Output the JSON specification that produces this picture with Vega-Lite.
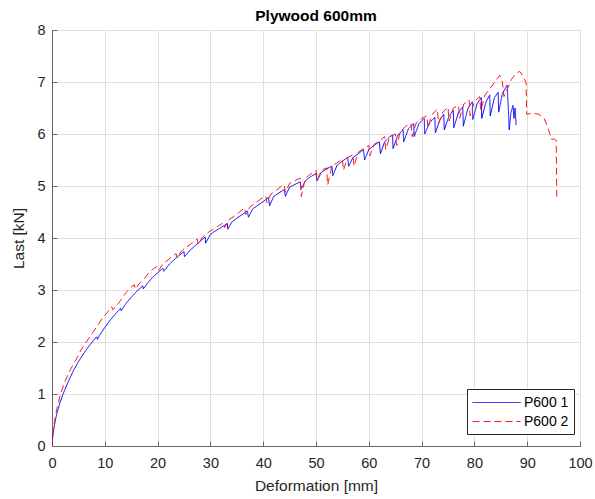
{
  "$schema": "https://vega.github.io/schema/vega-lite/v6.json",
  "width": 528,
  "height": 416,
  "autosize": {"type": "none"},
  "padding": {"left": 52, "top": 30, "right": 15, "bottom": 53},
  "background": "white",
  "title": {
    "text": "Plywood 600mm",
    "font": "Liberation Sans",
    "fontSize": 15.5,
    "fontWeight": "bold",
    "color": "#000000",
    "anchor": "middle",
    "offset": -2
  },
  "data": {
    "values": [
      {"s": "P600 1", "x": 0, "y": 0}, {"s": "P600 1", "x": 0.1, "y": 0.15}, {"s": "P600 1", "x": 0.3, "y": 0.3},
      {"s": "P600 1", "x": 0.6, "y": 0.48}, {"s": "P600 1", "x": 1, "y": 0.65}, {"s": "P600 1", "x": 1.5, "y": 0.83},
      {"s": "P600 1", "x": 2.1, "y": 1.0}, {"s": "P600 1", "x": 3, "y": 1.22}, {"s": "P600 1", "x": 4, "y": 1.44},
      {"s": "P600 1", "x": 5, "y": 1.62}, {"s": "P600 1", "x": 6, "y": 1.78}, {"s": "P600 1", "x": 7, "y": 1.92},
      {"s": "P600 1", "x": 8, "y": 2.05}, {"s": "P600 1", "x": 8.5, "y": 2.1}, {"s": "P600 1", "x": 8.6, "y": 2.05},
      {"s": "P600 1", "x": 9, "y": 2.13}, {"s": "P600 1", "x": 10, "y": 2.28}, {"s": "P600 1", "x": 11, "y": 2.42},
      {"s": "P600 1", "x": 12, "y": 2.54}, {"s": "P600 1", "x": 13, "y": 2.65}, {"s": "P600 1", "x": 13.1, "y": 2.6},
      {"s": "P600 1", "x": 14, "y": 2.74}, {"s": "P600 1", "x": 15, "y": 2.86}, {"s": "P600 1", "x": 16, "y": 2.97},
      {"s": "P600 1", "x": 17.2, "y": 3.08}, {"s": "P600 1", "x": 17.3, "y": 3.02}, {"s": "P600 1", "x": 18, "y": 3.12},
      {"s": "P600 1", "x": 19, "y": 3.24}, {"s": "P600 1", "x": 20, "y": 3.33}, {"s": "P600 1", "x": 21, "y": 3.42},
      {"s": "P600 1", "x": 21.2, "y": 3.36}, {"s": "P600 1", "x": 22, "y": 3.47}, {"s": "P600 1", "x": 23, "y": 3.57},
      {"s": "P600 1", "x": 24, "y": 3.66}, {"s": "P600 1", "x": 25, "y": 3.74}, {"s": "P600 1", "x": 25.1, "y": 3.64},
      {"s": "P600 1", "x": 26, "y": 3.75}, {"s": "P600 1", "x": 27, "y": 3.84}, {"s": "P600 1", "x": 28, "y": 3.93},
      {"s": "P600 1", "x": 29, "y": 4.02}, {"s": "P600 1", "x": 29.1, "y": 3.9}, {"s": "P600 1", "x": 30, "y": 4.07},
      {"s": "P600 1", "x": 31, "y": 4.14}, {"s": "P600 1", "x": 32, "y": 4.2}, {"s": "P600 1", "x": 33.2, "y": 4.28},
      {"s": "P600 1", "x": 33.3, "y": 4.17}, {"s": "P600 1", "x": 34, "y": 4.3}, {"s": "P600 1", "x": 35, "y": 4.38},
      {"s": "P600 1", "x": 36, "y": 4.45}, {"s": "P600 1", "x": 37, "y": 4.52}, {"s": "P600 1", "x": 37.2, "y": 4.4},
      {"s": "P600 1", "x": 38, "y": 4.56}, {"s": "P600 1", "x": 39, "y": 4.63}, {"s": "P600 1", "x": 40, "y": 4.7},
      {"s": "P600 1", "x": 41, "y": 4.78}, {"s": "P600 1", "x": 41.2, "y": 4.62}, {"s": "P600 1", "x": 42, "y": 4.8},
      {"s": "P600 1", "x": 43, "y": 4.87}, {"s": "P600 1", "x": 44, "y": 4.93}, {"s": "P600 1", "x": 44.2, "y": 4.8},
      {"s": "P600 1", "x": 45, "y": 4.98}, {"s": "P600 1", "x": 46, "y": 5.03}, {"s": "P600 1", "x": 47, "y": 5.08},
      {"s": "P600 1", "x": 47.2, "y": 4.95}, {"s": "P600 1", "x": 48, "y": 5.1}, {"s": "P600 1", "x": 49, "y": 5.18},
      {"s": "P600 1", "x": 50, "y": 5.24}, {"s": "P600 1", "x": 50.2, "y": 5.1}, {"s": "P600 1", "x": 51, "y": 5.26},
      {"s": "P600 1", "x": 52, "y": 5.33}, {"s": "P600 1", "x": 53, "y": 5.38}, {"s": "P600 1", "x": 53.2, "y": 5.2},
      {"s": "P600 1", "x": 54, "y": 5.4}, {"s": "P600 1", "x": 55, "y": 5.48}, {"s": "P600 1", "x": 56, "y": 5.55},
      {"s": "P600 1", "x": 56.2, "y": 5.38}, {"s": "P600 1", "x": 57, "y": 5.55}, {"s": "P600 1", "x": 58, "y": 5.62},
      {"s": "P600 1", "x": 59, "y": 5.7}, {"s": "P600 1", "x": 59.2, "y": 5.5}, {"s": "P600 1", "x": 60, "y": 5.7},
      {"s": "P600 1", "x": 61, "y": 5.78}, {"s": "P600 1", "x": 62, "y": 5.85}, {"s": "P600 1", "x": 62.2, "y": 5.62},
      {"s": "P600 1", "x": 63, "y": 5.85}, {"s": "P600 1", "x": 64, "y": 5.95}, {"s": "P600 1", "x": 64.5, "y": 5.98},
      {"s": "P600 1", "x": 64.6, "y": 5.72}, {"s": "P600 1", "x": 65.5, "y": 5.98}, {"s": "P600 1", "x": 66.5, "y": 6.08},
      {"s": "P600 1", "x": 66.6, "y": 5.85}, {"s": "P600 1", "x": 67.5, "y": 6.1}, {"s": "P600 1", "x": 68.5, "y": 6.2},
      {"s": "P600 1", "x": 68.6, "y": 5.95}, {"s": "P600 1", "x": 69.5, "y": 6.2}, {"s": "P600 1", "x": 70.5, "y": 6.3},
      {"s": "P600 1", "x": 70.6, "y": 6.0}, {"s": "P600 1", "x": 71.5, "y": 6.22}, {"s": "P600 1", "x": 72.5, "y": 6.32},
      {"s": "P600 1", "x": 72.6, "y": 6.02}, {"s": "P600 1", "x": 73.5, "y": 6.28}, {"s": "P600 1", "x": 74.2, "y": 6.38},
      {"s": "P600 1", "x": 74.3, "y": 6.08}, {"s": "P600 1", "x": 75.2, "y": 6.35}, {"s": "P600 1", "x": 76, "y": 6.45},
      {"s": "P600 1", "x": 76.1, "y": 6.12}, {"s": "P600 1", "x": 77, "y": 6.42}, {"s": "P600 1", "x": 77.8, "y": 6.52},
      {"s": "P600 1", "x": 77.9, "y": 6.15}, {"s": "P600 1", "x": 78.8, "y": 6.5}, {"s": "P600 1", "x": 79.6, "y": 6.62},
      {"s": "P600 1", "x": 79.7, "y": 6.28}, {"s": "P600 1", "x": 80.5, "y": 6.58}, {"s": "P600 1", "x": 81.3, "y": 6.7},
      {"s": "P600 1", "x": 81.4, "y": 6.3}, {"s": "P600 1", "x": 82.2, "y": 6.62}, {"s": "P600 1", "x": 82.9, "y": 6.75},
      {"s": "P600 1", "x": 83, "y": 6.35}, {"s": "P600 1", "x": 83.8, "y": 6.7}, {"s": "P600 1", "x": 84.5, "y": 6.8},
      {"s": "P600 1", "x": 84.6, "y": 6.42}, {"s": "P600 1", "x": 85.3, "y": 6.78}, {"s": "P600 1", "x": 86.2, "y": 6.94},
      {"s": "P600 1", "x": 86.4, "y": 6.55}, {"s": "P600 1", "x": 86.6, "y": 6.08}, {"s": "P600 1", "x": 86.9, "y": 6.4},
      {"s": "P600 1", "x": 87.3, "y": 6.55}, {"s": "P600 1", "x": 87.5, "y": 6.3}, {"s": "P600 1", "x": 87.7, "y": 6.5},
      {"s": "P600 1", "x": 87.9, "y": 6.17},

      {"s": "P600 2", "x": 0, "y": 0}, {"s": "P600 2", "x": 0.1, "y": 0.18}, {"s": "P600 2", "x": 0.3, "y": 0.35},
      {"s": "P600 2", "x": 0.6, "y": 0.55}, {"s": "P600 2", "x": 1, "y": 0.75}, {"s": "P600 2", "x": 1.6, "y": 1.0},
      {"s": "P600 2", "x": 2.5, "y": 1.25}, {"s": "P600 2", "x": 3.5, "y": 1.47}, {"s": "P600 2", "x": 4.5, "y": 1.65},
      {"s": "P600 2", "x": 5.5, "y": 1.85}, {"s": "P600 2", "x": 6.5, "y": 2.0}, {"s": "P600 2", "x": 7.5, "y": 2.15},
      {"s": "P600 2", "x": 8.5, "y": 2.3}, {"s": "P600 2", "x": 9.5, "y": 2.45}, {"s": "P600 2", "x": 10.5, "y": 2.57},
      {"s": "P600 2", "x": 11.3, "y": 2.68}, {"s": "P600 2", "x": 11.5, "y": 2.62}, {"s": "P600 2", "x": 12.3, "y": 2.7},
      {"s": "P600 2", "x": 13, "y": 2.8}, {"s": "P600 2", "x": 14, "y": 2.95}, {"s": "P600 2", "x": 15, "y": 3.06},
      {"s": "P600 2", "x": 15.6, "y": 3.1}, {"s": "P600 2", "x": 15.8, "y": 3.02}, {"s": "P600 2", "x": 16.5, "y": 3.12},
      {"s": "P600 2", "x": 17.5, "y": 3.22}, {"s": "P600 2", "x": 18.5, "y": 3.35}, {"s": "P600 2", "x": 19.5, "y": 3.43},
      {"s": "P600 2", "x": 20, "y": 3.45}, {"s": "P600 2", "x": 20.2, "y": 3.38}, {"s": "P600 2", "x": 21, "y": 3.5},
      {"s": "P600 2", "x": 22, "y": 3.58}, {"s": "P600 2", "x": 23, "y": 3.66}, {"s": "P600 2", "x": 23.5, "y": 3.7},
      {"s": "P600 2", "x": 23.7, "y": 3.62}, {"s": "P600 2", "x": 24.5, "y": 3.75}, {"s": "P600 2", "x": 25.5, "y": 3.83},
      {"s": "P600 2", "x": 26.5, "y": 3.9}, {"s": "P600 2", "x": 27.5, "y": 3.98}, {"s": "P600 2", "x": 27.7, "y": 3.88},
      {"s": "P600 2", "x": 28.5, "y": 4.02}, {"s": "P600 2", "x": 29.5, "y": 4.1}, {"s": "P600 2", "x": 30.5, "y": 4.17},
      {"s": "P600 2", "x": 31.5, "y": 4.23}, {"s": "P600 2", "x": 32.5, "y": 4.3}, {"s": "P600 2", "x": 32.7, "y": 4.2},
      {"s": "P600 2", "x": 33.5, "y": 4.35}, {"s": "P600 2", "x": 34.5, "y": 4.42}, {"s": "P600 2", "x": 35.5, "y": 4.5},
      {"s": "P600 2", "x": 36.5, "y": 4.58}, {"s": "P600 2", "x": 36.7, "y": 4.45}, {"s": "P600 2", "x": 37.5, "y": 4.6},
      {"s": "P600 2", "x": 38.5, "y": 4.67}, {"s": "P600 2", "x": 39.5, "y": 4.75}, {"s": "P600 2", "x": 40.5, "y": 4.8},
      {"s": "P600 2", "x": 40.7, "y": 4.68}, {"s": "P600 2", "x": 41.5, "y": 4.85}, {"s": "P600 2", "x": 42.5, "y": 4.92},
      {"s": "P600 2", "x": 43.5, "y": 5.0}, {"s": "P600 2", "x": 44, "y": 5.02}, {"s": "P600 2", "x": 44.2, "y": 4.88},
      {"s": "P600 2", "x": 45, "y": 5.05}, {"s": "P600 2", "x": 46, "y": 5.1}, {"s": "P600 2", "x": 47, "y": 5.15},
      {"s": "P600 2", "x": 47.2, "y": 4.8}, {"s": "P600 2", "x": 48, "y": 5.15}, {"s": "P600 2", "x": 49, "y": 5.23},
      {"s": "P600 2", "x": 50, "y": 5.3}, {"s": "P600 2", "x": 50.3, "y": 5.12}, {"s": "P600 2", "x": 51, "y": 5.3},
      {"s": "P600 2", "x": 52, "y": 5.35}, {"s": "P600 2", "x": 52.2, "y": 5.02}, {"s": "P600 2", "x": 53, "y": 5.38},
      {"s": "P600 2", "x": 54, "y": 5.45}, {"s": "P600 2", "x": 55, "y": 5.52}, {"s": "P600 2", "x": 55.2, "y": 5.3},
      {"s": "P600 2", "x": 56, "y": 5.55}, {"s": "P600 2", "x": 57, "y": 5.6}, {"s": "P600 2", "x": 57.2, "y": 5.38},
      {"s": "P600 2", "x": 58, "y": 5.65}, {"s": "P600 2", "x": 59, "y": 5.72}, {"s": "P600 2", "x": 60, "y": 5.78},
      {"s": "P600 2", "x": 60.2, "y": 5.58}, {"s": "P600 2", "x": 61, "y": 5.8}, {"s": "P600 2", "x": 62, "y": 5.87},
      {"s": "P600 2", "x": 63, "y": 5.95}, {"s": "P600 2", "x": 63.2, "y": 5.7}, {"s": "P600 2", "x": 64, "y": 5.95},
      {"s": "P600 2", "x": 65, "y": 6.0}, {"s": "P600 2", "x": 65.3, "y": 5.78}, {"s": "P600 2", "x": 66, "y": 6.05},
      {"s": "P600 2", "x": 67, "y": 6.15}, {"s": "P600 2", "x": 68, "y": 6.2}, {"s": "P600 2", "x": 68.2, "y": 5.95},
      {"s": "P600 2", "x": 69, "y": 6.22}, {"s": "P600 2", "x": 70, "y": 6.3}, {"s": "P600 2", "x": 71, "y": 6.35},
      {"s": "P600 2", "x": 71.2, "y": 6.12}, {"s": "P600 2", "x": 72, "y": 6.38}, {"s": "P600 2", "x": 73, "y": 6.48},
      {"s": "P600 2", "x": 73.2, "y": 6.2}, {"s": "P600 2", "x": 74, "y": 6.42}, {"s": "P600 2", "x": 75, "y": 6.52},
      {"s": "P600 2", "x": 75.2, "y": 6.25}, {"s": "P600 2", "x": 76, "y": 6.5}, {"s": "P600 2", "x": 77, "y": 6.55},
      {"s": "P600 2", "x": 77.2, "y": 6.3}, {"s": "P600 2", "x": 78, "y": 6.58}, {"s": "P600 2", "x": 79, "y": 6.65},
      {"s": "P600 2", "x": 79.2, "y": 6.35}, {"s": "P600 2", "x": 80, "y": 6.62}, {"s": "P600 2", "x": 81, "y": 6.72},
      {"s": "P600 2", "x": 81.2, "y": 6.45}, {"s": "P600 2", "x": 82, "y": 6.75}, {"s": "P600 2", "x": 83, "y": 6.88},
      {"s": "P600 2", "x": 84, "y": 7.02}, {"s": "P600 2", "x": 84.8, "y": 7.13}, {"s": "P600 2", "x": 85.3, "y": 7.0},
      {"s": "P600 2", "x": 85.6, "y": 6.72}, {"s": "P600 2", "x": 86.2, "y": 6.85}, {"s": "P600 2", "x": 87, "y": 7.05},
      {"s": "P600 2", "x": 88, "y": 7.18}, {"s": "P600 2", "x": 88.6, "y": 7.2}, {"s": "P600 2", "x": 89.2, "y": 7.12},
      {"s": "P600 2", "x": 89.8, "y": 6.98}, {"s": "P600 2", "x": 89.9, "y": 6.38}, {"s": "P600 2", "x": 91, "y": 6.4},
      {"s": "P600 2", "x": 92.2, "y": 6.38}, {"s": "P600 2", "x": 93.2, "y": 6.3}, {"s": "P600 2", "x": 93.8, "y": 6.15},
      {"s": "P600 2", "x": 94.3, "y": 6.0}, {"s": "P600 2", "x": 94.5, "y": 5.9}, {"s": "P600 2", "x": 95.2, "y": 5.9},
      {"s": "P600 2", "x": 95.5, "y": 5.88}, {"s": "P600 2", "x": 95.6, "y": 4.75}
    ]
  },
  "mark": {"type": "line", "strokeWidth": 1, "clip": true},
  "encoding": {
    "x": {
      "field": "x",
      "type": "quantitative",
      "scale": {"domain": [0, 100], "nice": false, "zero": false},
      "axis": {
        "title": "Deformation [mm]",
        "values": [0, 10, 20, 30, 40, 50, 60, 70, 80, 90, 100],
        "labelPadding": 15,
        "labelFlush": false,
        "titlePadding": 9
      }
    },
    "y": {
      "field": "y",
      "type": "quantitative",
      "scale": {"domain": [0, 8], "nice": false},
      "axis": {
        "title": "Last [kN]",
        "values": [0, 1, 2, 3, 4, 5, 6, 7, 8],
        "labelPadding": 12,
        "labelFlush": false,
        "titlePadding": 10
      }
    },
    "color": {
      "field": "s",
      "type": "nominal",
      "scale": {"domain": ["P600 1", "P600 2"], "range": ["#0000ff", "#ff1a1a"]},
      "legend": {
        "title": null,
        "orient": "none",
        "legendX": 415,
        "legendY": 359,
        "symbolType": "M-1,0H5",
        "symbolSize": 256,
        "symbolStrokeWidth": 1,
        "labelOffset": 35,
        "rowPadding": 3,
        "padding": 5,
        "fillColor": "white",
        "strokeColor": "#262626",
        "cornerRadius": 0,
        "labelFont": "Liberation Sans",
        "labelFontSize": 14,
        "labelColor": "#000000"
      }
    },
    "strokeDash": {
      "field": "s",
      "type": "nominal",
      "scale": {"domain": ["P600 1", "P600 2"], "range": [[1, 0], [7, 4]]},
      "legend": null
    }
  },
  "config": {
    "view": {"stroke": null},
    "axis": {
      "grid": true,
      "gridColor": "#dfdfdf",
      "gridWidth": 1,
      "domainColor": "#666666",
      "domainWidth": 1,
      "tickColor": "#666666",
      "tickSize": -5,
      "labelFont": "Liberation Sans",
      "labelFontSize": 14.5,
      "labelColor": "#262626",
      "titleFont": "Liberation Sans",
      "titleFontSize": 15.5,
      "titleFontWeight": "normal",
      "titleColor": "#262626"
    }
  }
}
